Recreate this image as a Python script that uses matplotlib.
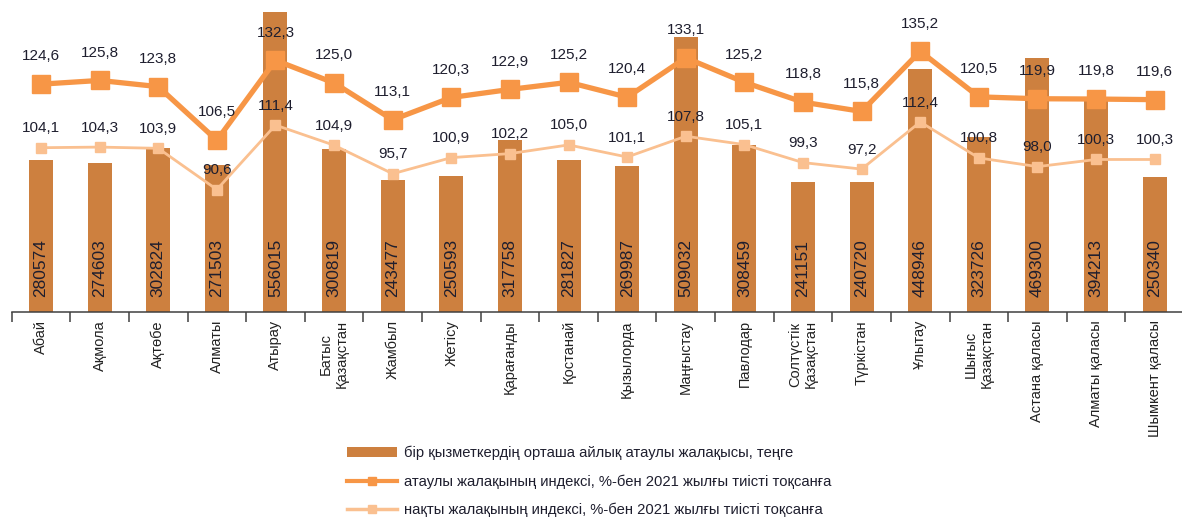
import numpy as np
import matplotlib
matplotlib.use("Agg")
import matplotlib.pyplot as plt
from matplotlib.lines import Line2D
from matplotlib.patches import Patch

plt.rcParams['font.family'] = ['Liberation Sans', 'DejaVu Sans']

# data
regions = ["Абай", "Ақмола", "Ақтөбе", "Алматы", "Атырау", "Батыс\nҚазақстан",
           "Жамбыл", "Жетісу", "Қарағанды", "Қостанай", "Қызылорда", "Маңғыстау",
           "Павлодар", "Солтүстік\nҚазақстан", "Түркістан", "Ұлытау",
           "Шығыс\nҚазақстан", "Астана қаласы", "Алматы қаласы", "Шымкент қаласы"]
wage = [280574, 274603, 302824, 271503, 556015, 300819, 243477, 250593, 317758, 281827,
        269987, 509032, 308459, 241151, 240720, 448946, 323726, 469300, 394213, 250340]
nominal_idx = [124.6, 125.8, 123.8, 106.5, 132.3, 125.0, 113.1, 120.3, 122.9, 125.2,
               120.4, 133.1, 125.2, 118.8, 115.8, 135.2, 120.5, 119.9, 119.8, 119.6]
real_idx = [104.1, 104.3, 103.9, 90.6, 111.4, 104.9, 95.7, 100.9, 102.2, 105.0,
            101.1, 107.8, 105.1, 99.3, 97.2, 112.4, 100.8, 98.0, 100.3, 100.3]

legend_labels = ["бір қызметкердің орташа айлық атаулы жалақысы, теңге",
                 "атаулы жалақының индексі, %-бен 2021 жылғы тиісті тоқсанға",
                 "нақты жалақының индексі, %-бен 2021 жылғы тиісті тоқсанға"]

bar_color = "#CD803F"
nom_color = "#F79646"
real_color = "#FAC090"
txt_color = "#1E1E2E"

W, H = 1182, 519
fig = plt.figure(figsize=(W / 100, H / 100), dpi=100)
ax = fig.add_axes([11.7 / W, 1 - 311.7 / H, (1184 - 11.7) / W, 310 / H])

x = np.arange(len(regions))
ax.bar(x, wage, width=0.41, color=bar_color, zorder=2)
ax.set_ylim(0, 574400)
ax.set_xlim(-0.5, len(regions) - 0.5)

for xi, v in zip(x, wage):
    ax.annotate(str(v), (xi, 0), xytext=(0, 10.5), textcoords="offset points",
                rotation=90, ha="center", va="bottom", fontsize=12.5, color=txt_color)

# category boundaries as ticks, names on minor ticks
ax.set_xticks(np.arange(len(regions) + 1) - 0.5)
ax.set_xticklabels([])
ax.tick_params(axis="x", which="major", length=7, width=1.1, color="#404040")
ax.set_xticks(x, minor=True)
ax.set_xticklabels(regions, minor=True, rotation=90, ha="center", va="top",
                   fontsize=10.5, color="#222222", multialignment="center")
ax.tick_params(axis="x", which="minor", length=0, pad=6)
ax.set_yticks([])
for s in ["top", "left", "right"]:
    ax.spines[s].set_visible(False)
ax.spines["bottom"].set_color("#404040")
ax.spines["bottom"].set_linewidth(1.1)

ax2 = ax.twinx()
ax2.set_ylim(51.2, 151.2)
ax2.plot(x, real_idx, color=real_color, lw=2, marker="s", ms=7, zorder=3)
ax2.plot(x, nominal_idx, color=nom_color, lw=3.8, marker="s", ms=13, zorder=4)
ax2.set_yticks([])
for s in ax2.spines.values():
    s.set_visible(False)

for xi, v in zip(x, nominal_idx):
    ax2.annotate(f"{v:.1f}".replace(".", ","), (xi, v), xytext=(0, 20),
                 textcoords="offset points", ha="center", va="center",
                 fontsize=11, color=txt_color, zorder=6)
for xi, v in zip(x, real_idx):
    ax2.annotate(f"{v:.1f}".replace(".", ","), (xi, v), xytext=(0, 14),
                 textcoords="offset points", ha="center", va="center",
                 fontsize=11, color=txt_color, zorder=6)

handles = [Patch(facecolor=bar_color),
           Line2D([], [], color=nom_color, lw=3, marker="s", ms=6),
           Line2D([], [], color=real_color, lw=2.5, marker="s", ms=6)]
fig.legend(handles, legend_labels, loc="upper left",
           bbox_to_anchor=(347 / W, 1 - 446 / H), frameon=False,
           borderaxespad=0, borderpad=0, fontsize=10.6, handlelength=3.4,
           handletextpad=0.45, labelspacing=0.95, labelcolor=txt_color)

fig.savefig("out.png", dpi=100)
